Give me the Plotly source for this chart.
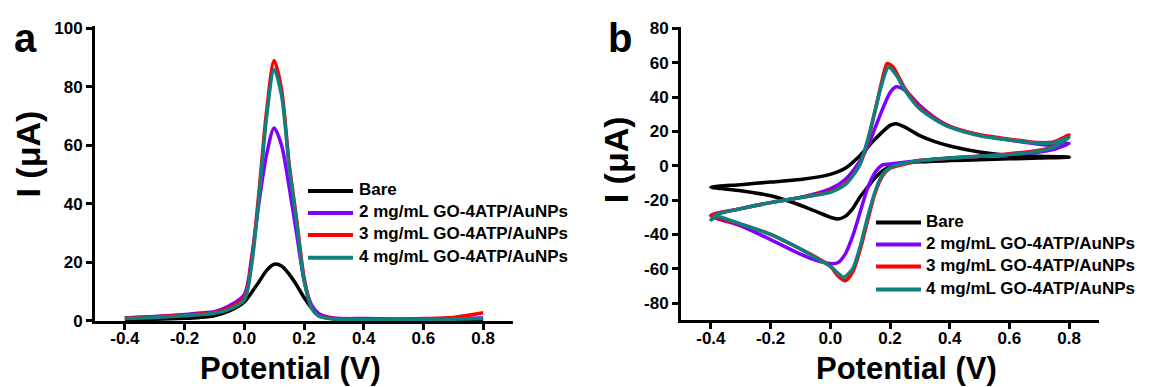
import plotly.graph_objects as go

# ---------------- Panel a: DPV ----------------
dpv_potential = [-0.4, -0.3, -0.2, -0.15, -0.1, -0.05, 0.0, 0.025, 0.05, 0.075, 0.1,
                 0.125, 0.15, 0.175, 0.2, 0.225, 0.25, 0.3, 0.4, 0.5, 0.6, 0.7, 0.8]
dpv_bare = [0.5, 0.6, 0.9, 1.2, 1.8, 3.4, 6.5, 9.8, 13.5, 17.3, 19.4,
            18.8, 16.0, 12.3, 8.0, 4.5, 2.2, 0.7, 0.4, 0.4, 0.4, 0.5, 0.6]
dpv_2mg = [1.0, 1.5, 2.2, 2.7, 3.2, 5.2, 9.0, 22.0, 41.0, 57.0, 66.0,
           60.0, 46.0, 30.0, 14.0, 5.5, 2.5, 1.0, 0.8, 0.7, 0.7, 0.8, 1.0]
dpv_3mg = [1.0, 1.4, 2.0, 2.4, 2.9, 4.5, 8.0, 21.0, 45.0, 72.0, 89.0,
           79.0, 54.0, 35.0, 15.0, 4.5, 1.8, 0.8, 0.6, 0.6, 0.8, 1.2, 2.8]
dpv_4mg = [0.8, 1.2, 1.8, 2.1, 2.6, 4.0, 7.2, 19.5, 43.0, 70.0, 86.0,
           77.0, 53.0, 34.0, 14.0, 4.5, 1.6, 0.7, 0.5, 0.5, 0.5, 0.6, 0.8]

# ---------------- Panel b: CV (forward sweep then reverse sweep) ----------------
cv_bare_E = [-0.4, -0.3, -0.2, -0.1, 0.0, 0.05, 0.1, 0.15, 0.2, 0.22, 0.25, 0.3, 0.35, 0.4, 0.5, 0.6, 0.7, 0.8,
             0.7, 0.6, 0.5, 0.4, 0.3, 0.25, 0.2, 0.175, 0.15, 0.125, 0.1, 0.075, 0.05, 0.025, 0.0, -0.05, -0.1, -0.2, -0.3, -0.4]
cv_bare_I = [-12.5, -11.0, -9.5, -8.0, -5.0, -1.5, 6.0, 15.5, 23.5, 24.5, 22.5, 17.5, 14.0, 11.5, 8.0, 6.0, 5.5, 5.0,
             4.5, 4.0, 3.5, 3.0, 2.3, 1.5, -0.5, -3.0, -7.0, -12.5, -18.0, -25.0, -29.5, -31.0, -30.0, -26.5, -23.0, -17.5, -14.5, -12.5]

cv_2mg_E = [-0.4, -0.3, -0.2, -0.1, 0.0, 0.05, 0.1, 0.125, 0.15, 0.175, 0.2, 0.22, 0.25, 0.3, 0.35, 0.4, 0.5, 0.6, 0.7, 0.75, 0.8,
            0.75, 0.7, 0.6, 0.5, 0.4, 0.3, 0.2, 0.175, 0.15, 0.125, 0.1, 0.075, 0.05, 0.025, 0.0, -0.05, -0.1, -0.2, -0.3, -0.4]
cv_2mg_I = [-29.0, -25.0, -21.5, -18.5, -13.5, -8.0, 3.0, 11.0, 22.0, 33.0, 42.5, 46.0, 44.0, 35.0, 28.0, 23.0, 18.0, 15.0, 12.5, 12.0, 13.0,
            9.5, 8.0, 6.5, 5.5, 4.5, 3.0, 1.0, 0.5, -4.0, -13.0, -27.0, -41.0, -51.5, -56.5, -57.0, -55.0, -51.5, -43.0, -35.0, -29.0]

cv_3mg_E = [-0.4, -0.3, -0.2, -0.1, 0.0, 0.05, 0.075, 0.1, 0.125, 0.15, 0.175, 0.19, 0.21, 0.25, 0.3, 0.35, 0.4, 0.5, 0.6, 0.7, 0.75, 0.8,
            0.75, 0.7, 0.6, 0.5, 0.4, 0.3, 0.25, 0.2, 0.175, 0.15, 0.125, 0.1, 0.075, 0.05, 0.025, 0.0, -0.05, -0.1, -0.2, -0.3, -0.4]
cv_3mg_I = [-29.0, -25.0, -21.5, -18.5, -15.0, -10.5, -5.5, 1.0, 14.0, 32.0, 51.0, 59.5, 57.5, 45.0, 34.0, 27.5, 23.0, 18.0, 15.5, 13.5, 14.0, 18.0,
            11.5, 9.0, 7.0, 5.5, 4.5, 3.0, 1.0, -1.5, -6.0, -16.0, -32.0, -49.0, -62.0, -67.0, -64.0, -58.5, -53.0, -48.5, -40.0, -34.0, -29.0]

cv_4mg_E = [-0.4, -0.38, -0.3, -0.2, -0.1, 0.0, 0.05, 0.075, 0.1, 0.125, 0.15, 0.175, 0.195, 0.22, 0.25, 0.3, 0.35, 0.4, 0.5, 0.6, 0.7, 0.75, 0.8,
            0.75, 0.7, 0.6, 0.5, 0.4, 0.3, 0.25, 0.2, 0.175, 0.15, 0.125, 0.1, 0.075, 0.045, 0.025, 0.0, -0.05, -0.1, -0.2, -0.3, -0.38, -0.4]
cv_4mg_I = [-31.5, -28.5, -25.0, -21.5, -18.5, -15.5, -11.0, -6.0, 1.0, 15.0, 32.0, 49.0, 57.5, 53.0, 44.0, 33.0, 27.0, 22.5, 17.5, 15.0, 13.0, 13.5, 16.5,
            11.0, 8.5, 6.5, 5.5, 4.5, 3.0, 1.5, -1.0, -5.0, -15.0, -30.0, -47.0, -60.0, -65.0, -62.5, -58.5, -53.5, -48.5, -40.0, -34.0, -29.5, -31.5]

series_names = ["Bare", "2 mg/mL GO-4ATP/AuNPs", "3 mg/mL GO-4ATP/AuNPs", "4 mg/mL GO-4ATP/AuNPs"]
series_colors = ["#000000", "#7F00FF", "#FF0000", "#0F7F7F"]

x_ticks = [-0.4, -0.2, 0.0, 0.2, 0.4, 0.6, 0.8]
x_tick_labels = ["-0.4", "-0.2", "0.0", "0.2", "0.4", "0.6", "0.8"]
ya_ticks = [0, 20, 40, 60, 80, 100]
ya_tick_labels = ["0", "20", "40", "60", "80", "100"]
yb_ticks = [-80, -60, -40, -20, 0, 20, 40, 60, 80]
yb_tick_labels = ["-80", "-60", "-40", "-20", "0", "20", "40", "60", "80"]

W, H = 1151, 387
def px(x):
    return x / W
def py(y):
    return 1 - y / H

FONT = "Arial, Liberation Sans, sans-serif"
LW = 3.5

fig = go.Figure()

dpv_series = [dpv_bare, dpv_2mg, dpv_3mg, dpv_4mg]
for name, col, ys in zip(series_names, series_colors, dpv_series):
    fig.add_trace(go.Scatter(x=dpv_potential, y=ys, mode="lines", name=name,
                             line=dict(color=col, width=LW, shape="spline", smoothing=0.8),
                             xaxis="x", yaxis="y", showlegend=False))

cv_series = [(cv_bare_E, cv_bare_I), (cv_2mg_E, cv_2mg_I), (cv_3mg_E, cv_3mg_I), (cv_4mg_E, cv_4mg_I)]
for name, col, (xs, ys) in zip(series_names, series_colors, cv_series):
    fig.add_trace(go.Scatter(x=xs, y=ys, mode="lines", name=name,
                             line=dict(color=col, width=LW, shape="spline", smoothing=0.7),
                             xaxis="x2", yaxis="y2", showlegend=False))

axis_common = dict(showline=True, linecolor="black", linewidth=3, ticks="outside",
                   ticklen=6, tickwidth=3, tickcolor="black", showgrid=False, zeroline=False,
                   tickfont=dict(family=FONT, size=17, color="black", weight="bold"))

fig.update_layout(
    width=W, height=H,
    margin=dict(l=0, r=0, t=0, b=0),
    paper_bgcolor="white", plot_bgcolor="white",
    xaxis=dict(domain=[px(87), px(505)], range=[-0.5, 0.9], tickvals=x_ticks, ticktext=x_tick_labels,
               anchor="y", ticklabelstandoff=-6, **axis_common),
    yaxis=dict(domain=[py(320), py(11.9)], range=[0, 100.7], tickvals=ya_ticks, ticktext=ya_tick_labels,
               anchor="x", **axis_common),
    xaxis2=dict(domain=[px(673), px(1091)], range=[-0.5, 0.9], tickvals=x_ticks, ticktext=x_tick_labels,
                anchor="y2", ticklabelstandoff=-6, **axis_common),
    yaxis2=dict(domain=[py(319.3), py(12.2)], range=[-90, 81], tickvals=yb_ticks, ticktext=yb_tick_labels,
                anchor="x2", **axis_common),
)

shapes = []
annotations = []

# Manual legends (line swatch + label)
legend_a = dict(x0=300, x1=345, xt=349, rows=[184, 207, 230, 254])
legend_b = dict(x0=868, x1=913, xt=916, rows=[217, 240, 263, 287])
for lg in (legend_a, legend_b):
    for name, col, yrow in zip(series_names, series_colors, lg["rows"]):
        shapes.append(dict(type="line", xref="paper", yref="paper",
                           x0=px(lg["x0"]), x1=px(lg["x1"]), y0=py(yrow), y1=py(yrow),
                           line=dict(color=col, width=4)))
        annotations.append(dict(text=name, xref="paper", yref="paper", x=px(lg["xt"]), y=py(yrow - 1),
                                xanchor="left", yanchor="middle", showarrow=False,
                                font=dict(family=FONT, size=17, color="black", weight="bold")))

# Axis titles
for xc in (282.5, 898.5):
    annotations.append(dict(text="Potential (V)", xref="paper", yref="paper", x=px(xc), y=py(370),
                            xanchor="center", yanchor="middle", showarrow=False,
                            font=dict(family=FONT, size=31, color="black", weight="bold")))
for xc, yc in ((20, 146), (608, 152)):
    annotations.append(dict(text="I (μA)", xref="paper", yref="paper", x=px(xc), y=py(yc),
                            xanchor="center", yanchor="middle", textangle=-90, showarrow=False,
                            font=dict(family=FONT, size=34, color="black", weight="bold")))

# Panel letters
for letter, xc in (("a", 17), ("b", 612)):
    annotations.append(dict(text=letter, xref="paper", yref="paper", x=px(xc), y=1.0,
                            xanchor="center", yanchor="top", showarrow=False, borderpad=0,
                            font=dict(family=FONT, size=40, color="black", weight="bold")))

fig.update_layout(shapes=shapes, annotations=annotations)
fig.write_html("out.html")
